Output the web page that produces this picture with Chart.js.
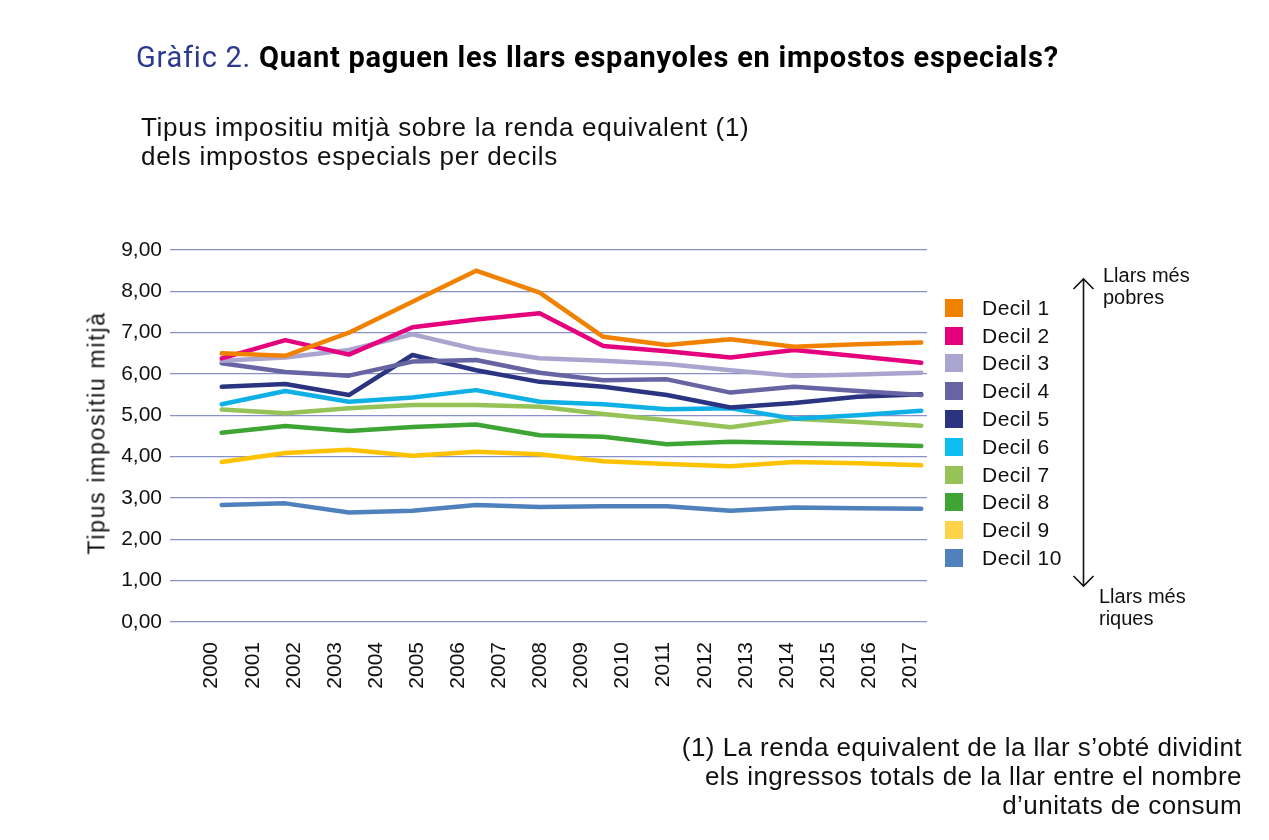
<!DOCTYPE html>
<html>
<head>
<meta charset="utf-8">
<script src="https://cdn.jsdelivr.net/npm/chart.js@4"></script>
<style>
  html, body { margin: 0; padding: 0; background: #fff; }
  #wrap { position: relative; width: 1269px; height: 840px; overflow: hidden; font-family: "Liberation Sans", Arial, sans-serif; color: #111; }
  #chart { position: absolute; left: 0; top: 0; }
  .txt { position: absolute; white-space: nowrap; }
  #title { left: 136px; top: 41px; font-family: Roboto, sans-serif; font-size: 29px; line-height: 32px; letter-spacing: 0.75px; }
  #title .num { color: #2b3990; font-weight: 400; }
  #title .main { color: #000; font-weight: 700; }
  #subtitle { left: 141px; top: 113px; font-size: 26px; line-height: 29px; letter-spacing: 0.7px; }
  #ytitle { left: 97px; top: 433px; font-size: 23px; letter-spacing: 1.7px; transform: translate(-50%, -50%) rotate(-90deg); }
  #note { right: 27px; top: 733px; font-size: 26px; line-height: 29px; letter-spacing: 0.45px; text-align: right; }
  .side { font-size: 20px; line-height: 22px; }
  #legend { position: absolute; left: 945px; top: 294px; }
  #legend div { height: 27.8px; display: flex; align-items: center; font-size: 21px; letter-spacing: 0.5px; }
  #legend span.box { width: 18px; height: 18px; margin-right: 19px; display: inline-block; }
</style>
</head>
<body>
<div id="wrap">
  <canvas id="chart" width="1269" height="840"></canvas>
  <div id="title" class="txt"><span class="num">Gràfic 2.</span> <span class="main">Quant paguen les llars espanyoles en impostos especials?</span></div>
  <div id="subtitle" class="txt">Tipus impositiu mitjà sobre la renda equivalent (1)<br>dels impostos especials per decils</div>
  <div id="ytitle" class="txt">Tipus impositiu mitjà</div>
  <div id="legend"></div>
  <svg style="position:absolute;left:1070px;top:275px" width="30" height="316">
    <line x1="13.5" y1="4" x2="13.5" y2="311" stroke="#111" stroke-width="1.6"/>
    <polyline points="3.5,14 13.5,4 23.5,14" fill="none" stroke="#111" stroke-width="1.6"/>
    <polyline points="3.5,301 13.5,311 23.5,301" fill="none" stroke="#111" stroke-width="1.6"/>
  </svg>
  <div class="txt side" style="left:1103px;top:264px">Llars més<br>pobres</div>
  <div class="txt side" style="left:1099px;top:585px">Llars més<br>riques</div>
  <div id="note" class="txt">(1) La renda equivalent de la llar s’obté dividint<br>els ingressos totals de la llar entre el nombre<br>d’unitats de consum</div>
</div>
<script>
// year labels shown on the horizontal axis
const years = ['2000', '2001', '2002', '2003', '2004', '2005', '2006', '2007', '2008',
  '2009', '2010', '2011', '2012', '2013', '2014', '2015', '2016', '2017'];

// the lines only have 12 points each, spread across the whole axis
const decil1 = [6.50, 6.44, 7.00, 7.75, 8.50, 7.97, 6.90, 6.70, 6.84, 6.66, 6.72, 6.76];
const decil2 = [6.38, 6.82, 6.47, 7.13, 7.32, 7.47, 6.68, 6.55, 6.40, 6.58, 6.43, 6.27];
const decil3 = [6.32, 6.40, 6.58, 6.96, 6.60, 6.38, 6.32, 6.24, 6.09, 5.95, 5.99, 6.03];
const decil4 = [6.26, 6.05, 5.96, 6.30, 6.34, 6.03, 5.85, 5.87, 5.55, 5.69, 5.59, 5.49];
const decil5 = [5.69, 5.76, 5.49, 6.46, 6.09, 5.81, 5.69, 5.49, 5.19, 5.30, 5.45, 5.51];
const decil6 = [5.27, 5.59, 5.33, 5.43, 5.61, 5.33, 5.27, 5.15, 5.17, 4.92, 5.00, 5.11];
const decil7 = [5.14, 5.05, 5.17, 5.25, 5.25, 5.21, 5.03, 4.88, 4.71, 4.92, 4.84, 4.75];
const decil8 = [4.58, 4.74, 4.62, 4.72, 4.78, 4.52, 4.48, 4.30, 4.36, 4.33, 4.30, 4.26];
const decil9 = [3.87, 4.09, 4.17, 4.02, 4.12, 4.06, 3.89, 3.82, 3.77, 3.87, 3.84, 3.79];
const decil10 = [2.83, 2.87, 2.65, 2.69, 2.83, 2.78, 2.80, 2.80, 2.69, 2.77, 2.75, 2.74];

const names = ['Decil 1', 'Decil 2', 'Decil 3', 'Decil 4', 'Decil 5',
  'Decil 6', 'Decil 7', 'Decil 8', 'Decil 9', 'Decil 10'];
const series = [decil1, decil2, decil3, decil4, decil5, decil6, decil7, decil8, decil9, decil10];
const colors = ['#f08200', '#e5007d', '#a9a5cf', '#6664a3', '#2b3481',
  '#0eb0e6', '#95c357', '#3ea535', '#fdc300', '#4f81bd'];
const boxColors = ['#f08200', '#e5007d', '#a9a5cf', '#6664a3', '#2b3481',
  '#10bdf0', '#95c357', '#3ea535', '#ffd347', '#4f81bd'];

// legend (html, so it sits where it does in the original)
const legend = document.getElementById('legend');
names.forEach((n, i) => {
  const row = document.createElement('div');
  row.innerHTML = `<span class="box" style="background:${boxColors[i]}"></span>${n}`;
  legend.appendChild(row);
});

const gridColor = '#8b90c6';

new Chart(document.getElementById('chart'), {
  type: 'line',
  data: {
    datasets: series.map((vals, i) => ({
      label: names[i],
      data: vals.map((v, k) => ({ x: k, y: v })),
      xAxisID: 'xd',
      borderColor: colors[i],
      backgroundColor: colors[i],
      borderWidth: 4.5,
      pointRadius: 0,
      tension: 0,
      borderJoinStyle: 'round',
      borderCapStyle: 'round'
    }))
  },
  options: {
    responsive: false,
    animation: false,
    layout: { padding: { top: 250, left: 60, right: 342, bottom: 138 } },
    plugins: { legend: { display: false }, tooltip: { enabled: false } },
    scales: {
      xd: {
        type: 'linear',
        display: false,
        min: -0.813,
        max: 11.09
      },
      x: {
        type: 'linear',
        position: 'bottom',
        min: -1.015,
        max: 17.41,
        grid: { display: false },
        border: { display: false },
        afterFit: (s) => { s.height = 80; },
        ticks: {
          stepSize: 1,
          includeBounds: false,
          autoSkip: false,
          minRotation: 90,
          maxRotation: 90,
          padding: 12,
          color: '#111',
          font: { family: 'Liberation Sans', size: 21 },
          callback: (v) => {
            const k = Math.round(v);
            return (Math.abs(v - k) < 1e-6 && years[k]) ? years[k] : '';
          }
        }
      },
      y: {
        min: 0,
        max: 9,
        grid: { color: gridColor, lineWidth: 1.3, drawTicks: false },
        border: { display: false },
        afterFit: (s) => { s.width = 110; },
        ticks: {
          stepSize: 1,
          padding: 8,
          color: '#111',
          font: { family: 'Liberation Sans', size: 21 },
          callback: (v) => v.toFixed(2).replace('.', ',')
        }
      }
    }
  }
});
</script>
</body>
</html>
